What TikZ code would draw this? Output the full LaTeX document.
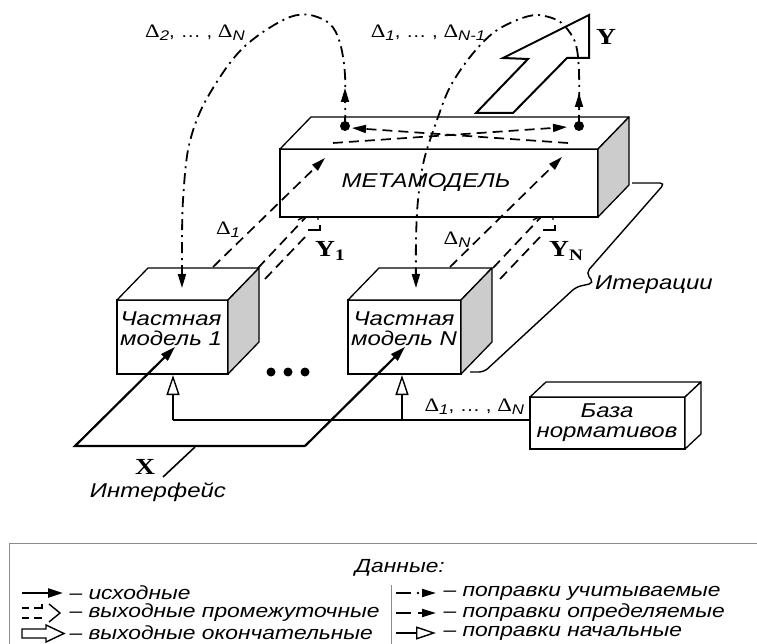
\documentclass[tikz,border=0pt]{standalone}
\usepackage{fontspec}
\setmainfont[FakeStretch=1.2]{Liberation Sans}
\newfontfamily\tnr[FakeStretch=1.2]{Liberation Serif}
\usetikzlibrary{arrows.meta}
\newcommand\lbl{\fontsize{20}{20}\selectfont\itshape}
\newcommand\leg{\fontsize{19}{19}\selectfont\itshape}
\newcommand\dlt[1]{{\tnr\fontsize{19}{19}\selectfont Δ}\raisebox{-3pt}{\fontsize{14}{14}\selectfont\itshape #1}}
\newcommand\dsep{{\fontsize{17}{17}\selectfont, … , }}
\newcommand\bY{\tnr\bfseries\fontsize{23}{23}\selectfont}
\begin{document}
\begin{tikzpicture}[x=1pt,y=-1pt,
  box/.style={draw, fill=white, line width=1.3pt, inner sep=0pt, outer sep=0pt},
  face/.style={draw, fill=white, line width=1.3pt, line join=round},
  gface/.style={draw, fill=black!20, line width=1.3pt, line join=round},
  thickarrow/.style={line width=2.2pt, -{Triangle[length=15pt,width=9pt]}},
  dd/.style={line width=1.8pt, dash pattern=on 11pt off 5pt on 2pt off 5pt},
  ds/.style={line width=1.7pt, dash pattern=on 10pt off 6pt},
  tip/.style={-{Triangle[length=14pt,width=8pt]}},
  opentip/.style={line width=1.4pt, -{Triangle[open,length=20pt,width=13pt]}},
  thin/.style={line width=1.4pt},
  legline/.style={draw=black!45, line width=1pt}]
\useasboundingbox (0,0) rectangle (757,644);

% output final arrow (behind metamodel)
\draw[line width=2pt, fill=white, line join=miter] (589,15) -- (503,58) -- (528,59) -- (476,113) -- (513,113) -- (567,58) -- (589,58) -- cycle;

% iterations brace
\draw[thin, rounded corners=5pt] (632,183) -- (665,183) -- (586,273) -- (594,283) -- (576,287) -- (484,372) -- (470,372);

% initial corrections (open triangles)
\draw[thin] (173,420) -- (530,420);
\draw[opentip] (173,420) -- (173,375);
\draw[opentip] (402,420) -- (402,375);

% intermediate output (double dashed) Y1, YN
\foreach \s in {0,235}{
  \begin{scope}[xshift=\s pt]
  \draw[ds] (258,268) -- (306,217);
  \draw[ds] (265,279) -- (306,236);
  \draw[thin] (298,220) -- (310,214);
  \draw[thin] (316,209) -- (318,207) -- (318,220);
  \draw[thin] (308,230) -- (320,230) -- (320,225);
  \end{scope}
}

% metamodel
\node[box, minimum width=318pt, minimum height=68pt] (meta) at (439,183) {};
\draw[face] (meta.north west) -- ++(31,-32) -- ++(318,0) -- (meta.north east) -- cycle;
\draw[gface] (meta.north east) -- ++(31,-32) -- ++(0,68) -- (meta.south east) -- cycle;
\node[font=\lbl] (metatext) at (426,183) {МЕТАМОДЕЛЬ};

% partial model 1
\node[box, minimum width=111pt, minimum height=74pt] (m1) at (172.5,337) {};
\draw[face] (m1.north west) -- ++(31,-32) -- ++(111,0) -- (m1.north east) -- cycle;
\draw[gface] (m1.north east) -- ++(31,-32) -- ++(0,74) -- (m1.south east) -- cycle;
\node[font=\lbl, align=center] (m1text) at (171,329) {Частная\\модель 1};

% partial model N
\node[box, minimum width=113pt, minimum height=74pt] (mN) at (404.5,337) {};
\draw[face] (mN.north west) -- ++(31,-32) -- ++(113,0) -- (mN.north east) -- cycle;
\draw[gface] (mN.north east) -- ++(31,-32) -- ++(0,74) -- (mN.south east) -- cycle;
\node[font=\lbl, align=center] (mNtext) at (404,329) {Частная\\модель N};

% base of normatives
\node[box, minimum width=155pt, minimum height=52pt] (base) at (607.5,423) {};
\draw[face] (base.north west) -- ++(16,-15) -- ++(155,0) -- (base.north east) -- cycle;
\draw[face] (base.north east) -- ++(16,-15) -- ++(0,52) -- (base.south east) -- cycle;
\node[font=\lbl, align=center] (basetext) at (607,423) {База\\нормативов};

% ellipsis dots
\fill (271,372) circle (4.5) (288,372) circle (4.5) (305,372) circle (4.5);

% interface
\coordinate (xl) at (75,446);
\coordinate (xr) at (305,446);
\draw[thickarrow, line join=miter] (xr) -- (xl) -- (175,347);
\draw[thickarrow] (xr) -- (405,347);
\draw[line width=1.6pt] (163,477) -- (195,447);
\node[font=\bY] (xlab) at (145,467) {X};
\node[font=\lbl] (intf) at (158,492) {Интерфейс};

% corrections determined (dashed)
\draw[ds, tip] (213,267) -- (325,158);
\draw[ds, tip] (450,267) -- (562,157);
\draw[ds, tip] (333,143) -- (567,127);
\draw[ds, tip] (568,143) -- (352,128);

% dots on metamodel
\coordinate (dl) at (345,126);
\coordinate (dr) at (579,126);
\fill (dl) circle (5);
\fill (dr) circle (5);

% corrections considered (dash-dot arcs)
\draw[dd, tip] plot[smooth, tension=0.55] coordinates {(345,126) (345,75) (340,43) (330,24) (310,15) (290,17) (263,32) (240,51) (220,77) (200,112) (188,150) (183,200) (182,240) (182,288)};
\draw[dd, tip] plot[smooth, tension=0.55] coordinates {(579,126) (579,72) (576,45) (568,30) (557,20) (537,15) (517,20) (493,33) (470,57) (450,87) (437,120) (424,160) (418,200) (416,240) (416,288)};
\draw[line width=1.8pt, tip] (345,102) -- (345,88);
\draw[line width=1.8pt, tip] (579,107) -- (579,93);

% labels
\node (ltop1) at (195,33) {\dlt{2}\dsep\dlt{N}};
\node (ltop2) at (428,33) {\dlt{1}\dsep\dlt{N-1}};
\node (ld1) at (228,230) {\dlt{1}};
\node (ldN) at (457,240) {\dlt{N}};
\node[anchor=west] (lbase) at (421,407) {\dlt{1}\dsep\dlt{N}};
\node[font=\bY] (ylab) at (606,37) {Y};
\node[font=\bY] (y1lab) at (330,251) {Y\raisebox{-4pt}{\fontsize{16}{16}\selectfont 1}};
\node[font=\bY] (yNlab) at (566,251) {Y\raisebox{-4pt}{\fontsize{16}{16}\selectfont N}};
\node[font=\lbl] (iter) at (654,285) {Итерации};

% legend
\draw[legline] (9,644) -- (9,543) -- (757,543);
\draw[legline] (391,585) -- (391,644);
\node[font=\leg] (legt) at (400,568) {Данные:};
\draw[thickarrow] (22,593) -- (63,593);
\node[font=\leg, anchor=west] (lg1) at (66,593) {– исходные};
\draw[thin] (22,608) -- (29,608) (34,608) -- (42,608) -- (42,604);
\draw[thin] (22,618) -- (29,618) (34,618) -- (42,618);
\draw[thin] (49,604) -- (60,613) -- (49,622);
\node[font=\leg, anchor=west] (lg2) at (66,613) {– выходные промежуточные};
\draw[thin, line join=miter] (22,629) -- (46,629) -- (46,625) -- (64,633.5) -- (46,642) -- (46,638) -- (22,638) -- cycle;
\node[font=\leg, anchor=west] (lg3) at (66,633) {– выходные окончательные};
\draw[line width=2.2pt] (396,593) -- (411,593);
\fill (418,593) circle (1.4);
\draw[line width=2pt, tip] (423,593) -- (436,593);
\node[font=\leg, anchor=west] (lg4) at (440,593) {– поправки учитываемые};
\draw[line width=2.2pt] (396,613) -- (411,613);
\draw[line width=2pt, tip] (418,613) -- (436,613);
\node[font=\leg, anchor=west] (lg5) at (440,613) {– поправки определяемые};
\draw[opentip] (396,633) -- (436,633);
\node[font=\leg, anchor=west] (lg6) at (440,633) {– поправки начальные};
\end{tikzpicture}
\end{document}
